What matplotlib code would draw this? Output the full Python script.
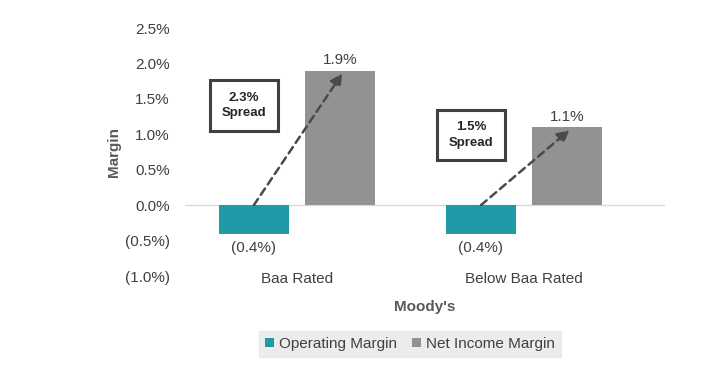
import matplotlib.pyplot as plt
import numpy as np

plt.rcParams['font.family'] = ['Liberation Sans', 'DejaVu Sans']

categories = ["Baa Rated", "Below Baa Rated"]
operating_margin = [-0.4, -0.4]
net_income_margin = [1.9, 1.1]
spread_labels = ["2.3%\nSpread", "1.5%\nSpread"]
spread_box_y = [1.41, 0.99]
yticks = [-1.0, -0.5, 0.0, 0.5, 1.0, 1.5, 2.0, 2.5]

teal = "#1f9aa6"
grey = "#929292"
txt = "#404040"

def fmt(v):
    if v < 0:
        return "(%.1f%%)" % abs(v)
    return "%.1f%%" % v

fig = plt.figure(figsize=(7.27, 3.71), dpi=100)
ax = fig.add_axes([0.2545, 0.256, 0.660, 0.6685])

x = np.arange(len(categories))
w = 0.31
off = 0.19
ax.bar(x - off, operating_margin, w, color=teal, label="Operating Margin")
ax.bar(x + off, net_income_margin, w, color=grey, label="Net Income Margin")

ax.axhline(0, color="#d9d9d9", lw=1, zorder=0)

for i in range(len(categories)):
    ax.text(x[i] - off, operating_margin[i] - 0.1, fmt(operating_margin[i]),
            ha="center", va="top", fontsize=11, color=txt)
    ax.text(x[i] + off, net_income_margin[i] + 0.05, fmt(net_income_margin[i]),
            ha="center", va="bottom", fontsize=11, color=txt)
    # dashed arrow from operating bar to net income bar
    x0, y0 = x[i] - off, 0.0
    x1, y1 = x[i] + off + 0.01, net_income_margin[i] - 0.04
    ax.annotate("", xy=(x1, y1), xytext=(x0, y0),
                arrowprops=dict(arrowstyle="-|>,head_length=0.7,head_width=0.35",
                                color="#4a4a4a", lw=1.8, linestyle=(0, (3, 2)),
                                shrinkA=0, shrinkB=0))
    ax.text(x[i] - 0.233, spread_box_y[i], spread_labels[i], ha="center", va="center",
            fontsize=9.5, fontweight="bold", color="#262626", linespacing=1.35,
            bbox=dict(boxstyle="square,pad=0.9", fc="white", ec="#404040", lw=2.2))

ax.set_xlim(-0.493, 1.62)
ax.set_ylim(-1.0, 2.5)
ax.set_yticks(yticks)
ax.set_yticklabels([fmt(v) for v in yticks], fontsize=11, color=txt)
ax.set_xticks(x)
ax.set_xticklabels(categories, fontsize=11, color=txt)
ax.tick_params(length=0)
ax.tick_params(axis="x", pad=-3)
ax.tick_params(axis="y", pad=11)
for s in ax.spines.values():
    s.set_visible(False)

ax.set_ylabel("Margin", fontsize=11, fontweight="bold", color="#595959", labelpad=3)
ax.set_xlabel("Moody's", fontsize=11, fontweight="bold", color="#595959", labelpad=10)

leg = ax.legend(loc="upper center", bbox_to_anchor=(0.469, -0.19), ncol=2, frameon=True,
                fontsize=11, handlelength=0.6, handleheight=0.6, handletextpad=0.3,
                columnspacing=1.0, borderpad=0.4, fancybox=False)
leg.get_frame().set_facecolor("#e8e8e8")
leg.get_frame().set_edgecolor("#e8e8e8")
for t in leg.get_texts():
    t.set_color(txt)

fig.savefig("out.png", dpi=100, facecolor="white")
